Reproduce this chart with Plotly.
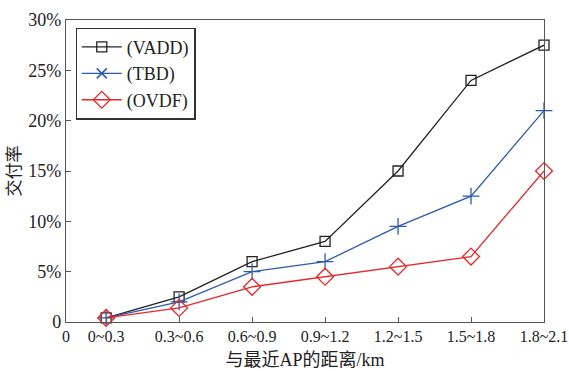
import plotly.graph_objects as go

categories = ["0~0.3", "0.3~0.6", "0.6~0.9", "0.9~1.2", "1.2~1.5", "1.5~1.8", "1.8~2.1"]
vadd = [0.4, 2.5, 6.0, 8.0, 15.0, 24.0, 27.5]
tbd = [0.4, 2.0, 5.0, 6.0, 9.5, 12.5, 21.0]
ovdf = [0.4, 1.4, 3.5, 4.5, 5.5, 6.5, 15.0]
y_ticks = [0, 5, 10, 15, 20, 25, 30]
y_labels = ["0", "5%", "10%", "15%", "20%", "25%", "30%"]

xs = list(range(len(categories)))
x0 = -0.55

serif = "Liberation Serif, Times New Roman, Times, serif"

fig = go.Figure()
fig.add_trace(go.Scatter(x=xs, y=vadd, mode="lines+markers", name="(VADD)", cliponaxis=False,
                         line=dict(color="#222222", width=1.3),
                         marker=dict(symbol="square-open", size=10, color="#222222", line=dict(width=1.3))))
fig.add_trace(go.Scatter(x=xs, y=tbd, mode="lines+markers", name="(TBD)", showlegend=False, cliponaxis=False,
                         line=dict(color="#2b5cab", width=1.3),
                         marker=dict(symbol="cross-thin-open", size=12, color="#2b5cab", line=dict(width=1.3, color="#2b5cab"))))
fig.add_trace(go.Scatter(x=[None], y=[None], mode="lines+markers", name="(TBD)",
                         line=dict(color="#2b5cab", width=1.3),
                         marker=dict(symbol="x-thin-open", size=10, color="#2b5cab", line=dict(width=1.5, color="#2b5cab"))))
fig.add_trace(go.Scatter(x=xs, y=ovdf, mode="lines+markers", name="(OVDF)", cliponaxis=False,
                         line=dict(color="#e8262a", width=1.3),
                         marker=dict(symbol="diamond-open", size=13, color="#e8262a", line=dict(width=1.3))))

fig.update_layout(
    width=569, height=371,
    margin=dict(l=66, r=25, t=20, b=49),
    paper_bgcolor="white", plot_bgcolor="white",
    font=dict(family=serif, size=18, color="#222222"),
    legend=dict(x=0.02, y=0.975, xanchor="left", yanchor="top",
                bordercolor="#333333", borderwidth=1.2, bgcolor="white",
                font=dict(size=18), tracegroupgap=0, itemwidth=40),
    xaxis=dict(range=[x0, 6], tickmode="array", tickvals=[x0] + xs, ticktext=["0"] + categories,
               ticks="inside", ticklen=5, tickcolor="#555555", showgrid=False, zeroline=False,
               showline=True, linecolor="#555555", linewidth=1.3, mirror=True,
               automargin=False, ticklabeloverflow="allow", tickfont=dict(size=16),
               title=dict(text="与最近AP的距离/km", font=dict(family=serif + ", Noto Sans CJK SC", size=18), standoff=9)),
    yaxis=dict(range=[0, 30], tickmode="array", tickvals=y_ticks, ticktext=y_labels,
               ticks="inside", ticklen=5, tickcolor="#555555", showgrid=False, zeroline=False,
               showline=True, linecolor="#555555", linewidth=1.3, mirror=True,
               automargin=False, ticklabeloverflow="allow",
               title=dict(text="交付率", font=dict(family="Noto Sans CJK SC", size=17), standoff=4)),
)

fig.write_html("out.html")
